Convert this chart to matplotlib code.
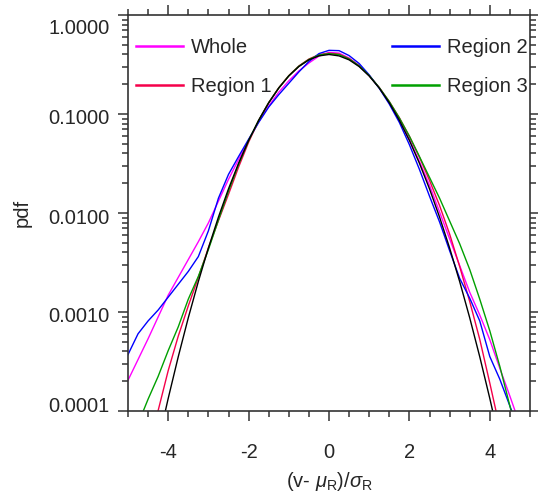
import numpy as np
import matplotlib
matplotlib.use('Agg')
import matplotlib.pyplot as plt
from matplotlib.ticker import FixedLocator, MultipleLocator, FuncFormatter, LogLocator, NullFormatter
from matplotlib.lines import Line2D
import matplotlib.transforms as mtransforms

plt.rcParams['font.family'] = ['Liberation Sans', 'DejaVu Sans']
plt.rcParams['mathtext.fontset'] = 'custom'
plt.rcParams['mathtext.rm'] = 'Liberation Sans'
plt.rcParams['mathtext.it'] = 'Liberation Sans:italic'
plt.rcParams['mathtext.sf'] = 'Liberation Sans'

nan = np.nan

# normalized velocity (v - mu_R)/sigma_R
x_values = [-5.0, -4.75, -4.5, -4.25, -4.0, -3.75, -3.5, -3.25, -3.0, -2.75,
            -2.5, -2.25, -2.0, -1.75, -1.5, -1.25, -1.0, -0.75, -0.5, -0.25,
            0.0, 0.25, 0.5, 0.75, 1.0, 1.25, 1.5, 1.75, 2.0, 2.25,
            2.5, 2.75, 3.0, 3.25, 3.5, 3.75, 4.0, 4.25, 4.5, 4.75, 5.0]

# log10(pdf)
log_pdf_whole = [-3.69, -3.48, -3.27, -3.05, -2.83, -2.65, -2.47, -2.29, -2.10, -1.88,
                 -1.66, -1.46, -1.27, -1.08, -0.92, -0.78, -0.665, -0.565, -0.485, -0.415,
                 -0.378, -0.385, -0.435, -0.51, -0.612, -0.735, -0.882, -1.055, -1.255, -1.48,
                 -1.72, -1.99, -2.26, -2.53, -2.80, -3.03, -3.28, -3.57, -3.85, -4.14, nan]

log_pdf_region1 = [nan, nan, -4.45, -3.995, -3.592, -3.244, -2.938, -2.650, -2.353, -2.077,
                   -1.811, -1.537, -1.285, -1.065, -0.885, -0.735, -0.612, -0.515, -0.445, -0.40,
                   -0.385, -0.395, -0.44, -0.513, -0.612, -0.733, -0.875, -1.038, -1.225, -1.435,
                   -1.670, -1.924, -2.212, -2.540, -2.894, -3.276, -3.718, -4.174, nan, nan, nan]

log_pdf_region2 = [-3.43, -3.22, -3.09, -2.98, -2.85, -2.72, -2.59, -2.44, -2.18, -1.85,
                   -1.61, -1.43, -1.255, -1.085, -0.93, -0.805, -0.69, -0.575, -0.47, -0.39,
                   -0.357, -0.360, -0.41, -0.49, -0.605, -0.74, -0.90, -1.085, -1.31, -1.56,
                   -1.83, -2.09, -2.38, -2.66, -2.86, -3.09, -3.45, -3.68, -3.95, -4.22, nan]

log_pdf_region3 = [nan, -4.13, -3.88, -3.65, -3.39, -3.15, -2.87, -2.64, -2.37, -2.07,
                   -1.78, -1.51, -1.27, -1.065, -0.886, -0.737, -0.614, -0.517, -0.449, -0.405,
                   -0.39, -0.40, -0.444, -0.514, -0.612, -0.733, -0.875, -1.04, -1.225, -1.43,
                   -1.64, -1.85, -2.08, -2.31, -2.57, -2.87, -3.19, -3.55, -3.95, -4.35, nan]

log_pdf_normal = [nan, nan, nan, -4.32, -3.873, -3.452, -3.058, -2.692, -2.353, -2.041,
                  -1.756, -1.498, -1.267, -1.064, -0.887, -0.738, -0.616, -0.521, -0.453, -0.413,
                  -0.399, -0.413, -0.453, -0.521, -0.616, -0.738, -0.887, -1.064, -1.267, -1.498,
                  -1.756, -2.041, -2.353, -2.692, -3.058, -3.452, -3.873, -4.32, nan, nan, nan]

series_names = ['Whole', 'Region 1', 'Region 2', 'Region 3']
series_colors = ['#ff00ff', '#f5004a', '#0000ff', '#00a000']
series_data = [log_pdf_whole, log_pdf_region1, log_pdf_region2, log_pdf_region3]

xtick_values = [-4, -2, 0, 2, 4]
ytick_values = [1e-4, 1e-3, 1e-2, 1e-1, 1.0]

text_color = '#262626'
axis_color = '#333333'
fs = 14.5

fig = plt.figure(figsize=(5.38, 4.95), dpi=100)
ax = fig.add_axes([128 / 538, 84 / 495, 402 / 538, 396 / 495])

x = np.array(x_values)
for name, color, data in zip(series_names, series_colors, series_data):
    ax.plot(x, 10 ** np.array(data), color=color, lw=1.0)
ax.plot(x, 10 ** np.array(log_pdf_normal), color='black', lw=1.0)

ax.set_yscale('log')
ax.set_xlim(-5, 5)
ax.set_ylim(1e-4, 1.0)

ax.xaxis.set_major_locator(FixedLocator(xtick_values))
ax.xaxis.set_minor_locator(MultipleLocator(0.5))
ax.xaxis.set_major_formatter(FuncFormatter(lambda v, p: f'{v:g}'))
ax.yaxis.set_major_locator(FixedLocator(ytick_values))
ax.yaxis.set_major_formatter(FuncFormatter(lambda v, p: f'{v:.4f}'))
ax.yaxis.set_minor_locator(LogLocator(base=10, subs=range(2, 10)))
ax.yaxis.set_minor_formatter(NullFormatter())

for s in ax.spines.values():
    s.set_linewidth(1.2)
    s.set_color(axis_color)

ax.tick_params(which='both', direction='out', top=True, right=True,
               color=axis_color, width=1.1, labelcolor=text_color, labelsize=fs)
ax.tick_params(which='major', length=7)
ax.tick_params(which='minor', length=4)
ax.tick_params(axis='x', which='major', pad=16)
ax.tick_params(axis='y', which='major', pad=6)

# nudge y tick labels like the original
yticks = ax.yaxis.get_major_ticks()
offsets_px = [6, -3, -3, -3, -12]
for tk, dy in zip(yticks, offsets_px):
    tk.label1.set_transform(tk.label1.get_transform() +
                            mtransforms.ScaledTranslation(0, dy / 100, fig.dpi_scale_trans))

ax.set_xlabel(r'(v- $\mu_{\rm R}$)/$\sigma_{\rm R}$', fontsize=fs, color=text_color)
ax.xaxis.set_label_coords(0.5, -0.150)
ax.set_ylabel('pdf', fontsize=fs, color=text_color)
ax.yaxis.label.set_va('center')
ax.yaxis.set_label_coords(-0.264, 0.5)

handles = [Line2D([], [], color=c, lw=1.8, label=n) for n, c in zip(series_names, series_colors)]
common = dict(frameon=False, borderpad=0, borderaxespad=0, handlelength=2.33,
              handletextpad=0.4, labelspacing=1.0, fontsize=fs, labelcolor=text_color)
leg1 = ax.legend(handles=handles[:2], loc='upper left', bbox_to_anchor=(0.02, 0.942), **common)
ax.add_artist(leg1)
leg2 = ax.legend(handles=handles[2:], loc='upper right', bbox_to_anchor=(0.995, 0.942), **common)

fig.savefig('out.png', dpi=100)
